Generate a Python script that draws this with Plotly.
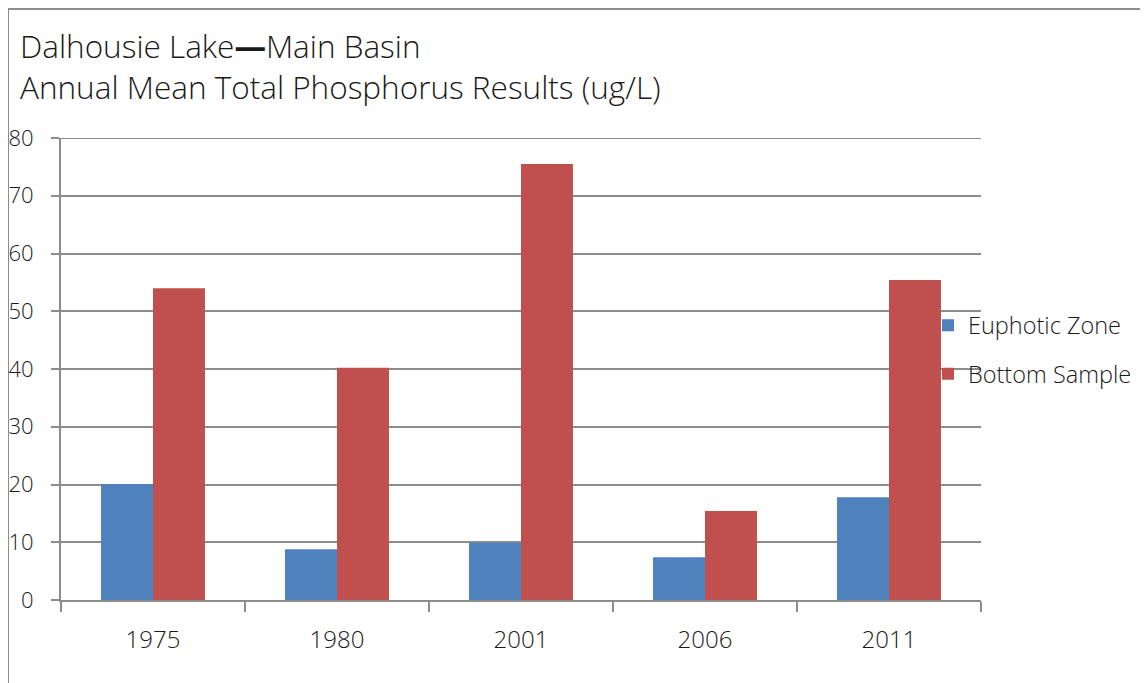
import plotly.graph_objects as go

years = ["1975", "1980", "2001", "2006", "2011"]
euphotic = [20.1, 8.8, 9.9, 7.4, 17.8]
bottom = [54.0, 40.2, 75.5, 15.4, 55.4]
y_ticks = [0, 10, 20, 30, 40, 50, 60, 70, 80]

# page has an 8px body margin, so the figure is drawn 8px smaller and offset
W, H = 1140, 675
L, R, T, B = 53, 973, 130, 592
PW, PH = R - L, B - T


def px(x):
    return (x - L) / PW


def py(y):
    return (B - y) / PH


fig = go.Figure()
fig.add_trace(go.Bar(x=years, y=euphotic, name="Euphotic Zone",
                     marker=dict(color="#4F81BD", line=dict(width=0)), legendgroup="a"))
fig.add_trace(go.Bar(x=years, y=bottom, name="Bottom Sample",
                     marker=dict(color="#C0504D", line=dict(width=0)), legendgroup="b"))

grid = "#8C8C8C"
txt = "#1a1a1a"
fig.update_layout(
    width=W, height=H,
    margin=dict(l=L, r=W - R, t=T, b=H - B, pad=0, autoexpand=False),
    paper_bgcolor="white", plot_bgcolor="white",
    font=dict(family="Open Sans, sans-serif", color=txt, size=22, weight=300),
    barmode="group", bargap=0.435, bargroupgap=0,
    xaxis=dict(showline=True, linecolor=grid, linewidth=2, ticks="outside", ticklen=10,
               tickcolor=grid, tickwidth=2, tickson="boundaries", ticklabelstandoff=17,
               showgrid=False, tickfont=dict(size=24), automargin=False),
    yaxis=dict(range=[0, 80], tickvals=y_ticks, showline=True, linecolor=grid, linewidth=2,
               ticks="outside", ticklen=8, tickcolor=grid, tickwidth=2,
               showgrid=True, gridcolor=grid, gridwidth=2, zeroline=False,
               ticklabelstandoff=13, tickfont=dict(size=22), automargin=False),
    legend=dict(x=px(920), xanchor="left", y=py(342), yanchor="middle",
                font=dict(size=23.5), tracegroupgap=15, bgcolor="rgba(0,0,0,0)", itemwidth=30),
    showlegend=True,
)

# top gridline (at the axis maximum)
fig.add_shape(type="line", xref="paper", yref="y", x0=0, x1=1, y0=y_ticks[-1], y1=y_ticks[-1],
              line=dict(color=grid, width=2), layer="below")

fig.add_annotation(text="Dalhousie Lake<b>—</b>Main Basin<br>Annual Mean Total Phosphorus Results (ug/L)",
                   xref="paper", yref="paper", x=px(10), y=py(14), xanchor="left", yanchor="top",
                   align="left", showarrow=False, font=dict(size=31.5, color=txt))

fig.add_shape(type="rect", xref="paper", yref="paper",
              x0=px(0), x1=px(1200), y0=py(720), y1=py(1),
              line=dict(color="#8C8C8C", width=2), fillcolor="rgba(0,0,0,0)", layer="below")

fig.write_html("out.html")
